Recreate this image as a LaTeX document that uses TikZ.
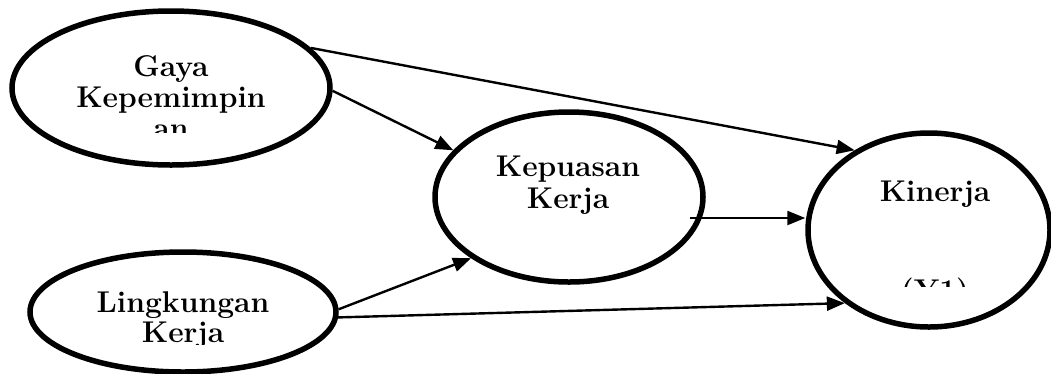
\documentclass[tikz,border=0pt]{standalone}
\usetikzlibrary{shapes.geometric,arrows.meta}
\begin{document}
\begin{tikzpicture}[x=1pt,y=-1pt,
  ell/.style={ellipse,draw=black,line width=5.5pt,inner sep=0pt},
  lbl/.style={align=center,anchor=base,font=\fontsize{30}{31}\selectfont\bfseries},
  conn/.style={draw=black,line width=2.4pt,-{Triangle[length=18pt,width=14pt]}}]
\useasboundingbox (0,0) rectangle (1051,373);

% variables
\node[ell,minimum width=318pt,minimum height=154pt] (g)  at (171,88)  {};
\node[ell,minimum width=306pt,minimum height=120pt] (l)  at (183,312) {};
\node[ell,minimum width=268pt,minimum height=170pt] (kp) at (569,197) {};
\node[ell,minimum width=242pt,minimum height=194pt] (kn) at (929,230) {};
\coordinate (kout) at (690,218);

% labels (anchored at the last line), cut off where the boxes end
\begin{scope}
  \clip (0,0) rectangle (1051,132);
  \node[lbl] (tg) at (171,138) {Gaya\\Kepemimpin\\an};
\end{scope}
\begin{scope}
  \clip (0,0) rectangle (1051,344);
  \node[lbl] (tl) at (183,342) {Lingkungan\\[-1pt]Kerja};
\end{scope}
\node[lbl] (tkp) at (568,208) {Kepuasan\\[1pt]Kerja};
\begin{scope}
  \clip (0,0) rectangle (1051,286);
  \node[lbl] (tkn) at (935,300) {Kinerja\\[68pt](Y1)};
\end{scope}

% paths
\draw[conn] (g.16)   -- (kn.133);
\draw[conn] (g.-1)   -- (kp.158);
\draw[conn] (l.1)    -- (kp.212);
\draw[conn] (l.-2)   -- (kn.221);
\draw[conn] (kout)   -- (kout -| kn.west);
\end{tikzpicture}
\end{document}
